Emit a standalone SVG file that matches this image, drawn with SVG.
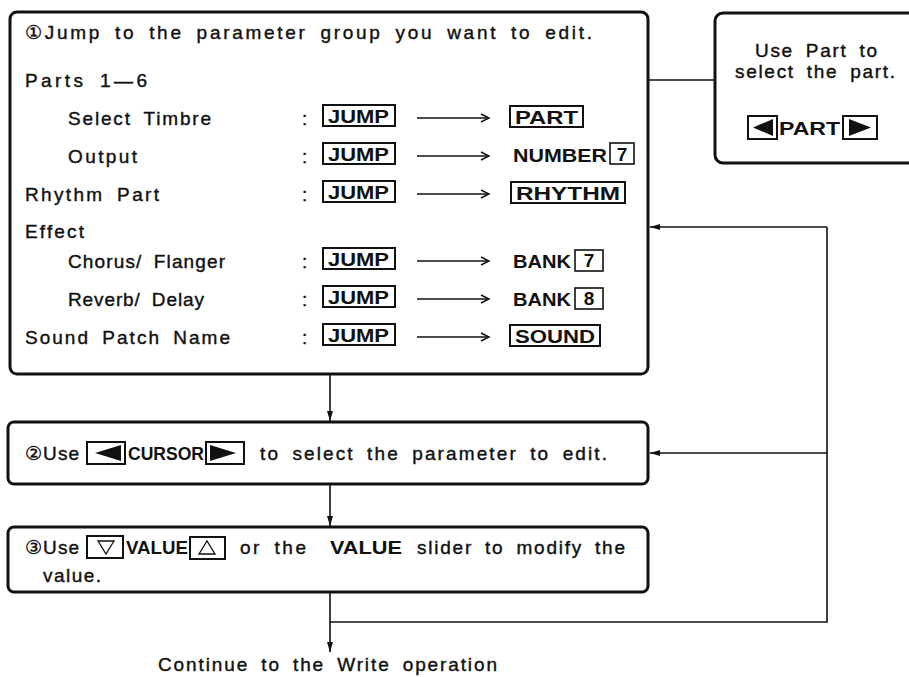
<svg xmlns="http://www.w3.org/2000/svg" width="909" height="677" viewBox="0 0 909 677">
<style>
.t{font-family:"Liberation Sans",Arial,"DejaVu Sans",sans-serif;font-size:19px;word-spacing:5px;fill:#111;stroke:#111;stroke-width:0.4}
.b{font-family:"Liberation Sans",Arial,sans-serif;font-size:19px;font-weight:bold;fill:#111}
.box{fill:#fff;stroke:#111;stroke-width:3}
.key{fill:none;stroke:#111;stroke-width:2}
.nkey{fill:none;stroke:#111;stroke-width:1.6}
.ln{fill:none;stroke:#111;stroke-width:1.6}
.chev{fill:none;stroke:#111;stroke-width:1.4}
.tri{fill:#111}
.otri{fill:none;stroke:#111;stroke-width:1.3}
</style>
<defs>
<marker id="ah" viewBox="0 0 10 6" refX="10" refY="3" markerWidth="10" markerHeight="6" markerUnits="userSpaceOnUse" orient="auto">
<path d="M0,0 L10,3 L0,6 Z" fill="#111"/>
</marker>
</defs>
<rect width="909" height="677" fill="#fff"/>

<g id="connectors">
<line class="ln" x1="715" y1="80" x2="163" y2="80" marker-end="url(#ah)"/>
<line class="ln" x1="330" y1="374" x2="330" y2="421" marker-end="url(#ah)"/>
<line class="ln" x1="330" y1="484" x2="330" y2="526" marker-end="url(#ah)"/>
<line class="ln" x1="330" y1="592" x2="330" y2="652" marker-end="url(#ah)"/>
<polyline class="ln" points="330,622 827,622 827,227"/>
<line class="ln" x1="827" y1="227" x2="650" y2="227" marker-end="url(#ah)"/>
<line class="ln" x1="827" y1="453" x2="650" y2="453" marker-end="url(#ah)"/>
</g>

<g id="node-jump">
<rect class="box" x="10" y="12" width="638" height="362" rx="7"/>
<text class="t" x="25" y="39" textLength="567" lengthAdjust="spacing">①Jump to the parameter group you want to edit.</text>
<text class="t" x="25" y="87" textLength="122" lengthAdjust="spacing">Parts 1—6</text>

<text class="t" x="68" y="125" textLength="143" lengthAdjust="spacing">Select Timbre</text>
<text class="t" x="68" y="163" textLength="69" lengthAdjust="spacing">Output</text>
<text class="t" x="25" y="201" textLength="134" lengthAdjust="spacing">Rhythm Part</text>
<text class="t" x="25" y="238" textLength="59" lengthAdjust="spacing">Effect</text>
<text class="t" x="68" y="268" textLength="157" lengthAdjust="spacing">Chorus/ Flanger</text>
<text class="t" x="68" y="306" textLength="136" lengthAdjust="spacing">Reverb/ Delay</text>
<text class="t" x="25" y="344" textLength="205" lengthAdjust="spacing">Sound Patch Name</text>

<g id="colons">
<text class="t" x="302" y="125">:</text>
<text class="t" x="302" y="163">:</text>
<text class="t" x="302" y="201">:</text>
<text class="t" x="302" y="268">:</text>
<text class="t" x="302" y="306">:</text>
<text class="t" x="302" y="344">:</text>
</g>

<g id="jump-keys">
<rect class="key" x="323" y="105" width="72" height="21"/><text class="b" x="328" y="123" textLength="61" lengthAdjust="spacingAndGlyphs">JUMP</text>
<rect class="key" x="323" y="143" width="72" height="21"/><text class="b" x="328" y="161" textLength="61" lengthAdjust="spacingAndGlyphs">JUMP</text>
<rect class="key" x="323" y="181" width="72" height="21"/><text class="b" x="328" y="199" textLength="61" lengthAdjust="spacingAndGlyphs">JUMP</text>
<rect class="key" x="323" y="248" width="72" height="21"/><text class="b" x="328" y="266" textLength="61" lengthAdjust="spacingAndGlyphs">JUMP</text>
<rect class="key" x="323" y="286" width="72" height="21"/><text class="b" x="328" y="304" textLength="61" lengthAdjust="spacingAndGlyphs">JUMP</text>
<rect class="key" x="323" y="324" width="72" height="21"/><text class="b" x="328" y="342" textLength="61" lengthAdjust="spacingAndGlyphs">JUMP</text>
</g>

<g id="row-arrows">
<line class="ln" x1="417" y1="118" x2="489" y2="118"/><polyline class="chev" points="481,114 489,118 481,122"/>
<line class="ln" x1="417" y1="156" x2="489" y2="156"/><polyline class="chev" points="481,152 489,156 481,160"/>
<line class="ln" x1="417" y1="194" x2="489" y2="194"/><polyline class="chev" points="481,190 489,194 481,198"/>
<line class="ln" x1="417" y1="261" x2="489" y2="261"/><polyline class="chev" points="481,257 489,261 481,265"/>
<line class="ln" x1="417" y1="299" x2="489" y2="299"/><polyline class="chev" points="481,295 489,299 481,303"/>
<line class="ln" x1="417" y1="337" x2="489" y2="337"/><polyline class="chev" points="481,333 489,337 481,341"/>
</g>

<g id="targets">
<rect class="key" x="510" y="106" width="73" height="21"/><text class="b" x="515" y="124" textLength="63" lengthAdjust="spacingAndGlyphs">PART</text>
<text class="b" x="513" y="162" textLength="94" lengthAdjust="spacingAndGlyphs">NUMBER</text>
<rect class="nkey" x="610" y="143" width="24" height="21"/><text class="b" x="622" y="161" text-anchor="middle">7</text>
<rect class="key" x="511" y="182" width="114" height="21"/><text class="b" x="516" y="200" textLength="104" lengthAdjust="spacingAndGlyphs">RHYTHM</text>
<text class="b" x="513" y="268" textLength="58" lengthAdjust="spacingAndGlyphs">BANK</text>
<rect class="nkey" x="575" y="250" width="28" height="21"/><text class="b" x="589" y="267" text-anchor="middle">7</text>
<text class="b" x="513" y="306" textLength="58" lengthAdjust="spacingAndGlyphs">BANK</text>
<rect class="nkey" x="575" y="288" width="28" height="21"/><text class="b" x="589" y="305" text-anchor="middle">8</text>
<rect class="key" x="510" y="325" width="90" height="21"/><text class="b" x="515" y="343" textLength="80" lengthAdjust="spacingAndGlyphs">SOUND</text>
</g>
</g>

<g id="node-part">
<rect class="box" x="715" y="13" width="220" height="150" rx="8"/>
<text class="t" x="755" y="57" textLength="122" lengthAdjust="spacing">Use Part to</text>
<text class="t" x="735" y="78" textLength="160" lengthAdjust="spacing">select the part.</text>
<rect class="key" x="748" y="116" width="29" height="23"/>
<polygon class="tri" points="753,127.5 773,119 773,136"/>
<text class="b" x="779" y="135" textLength="61" lengthAdjust="spacingAndGlyphs">PART</text>
<rect class="key" x="843" y="116" width="34" height="23"/>
<polygon class="tri" points="849,119 871,127.5 849,136"/>
</g>

<g id="node-cursor">
<rect class="box" x="8" y="422" width="640" height="62" rx="6"/>
<text class="t" x="25" y="460" textLength="54" lengthAdjust="spacing">②Use</text>
<rect class="key" x="87" y="442" width="38" height="22"/>
<polygon class="tri" points="95,453 121,445 121,461"/>
<text class="b" x="128" y="460" textLength="76" lengthAdjust="spacingAndGlyphs">CURSOR</text>
<rect class="key" x="206" y="442" width="38" height="22"/>
<polygon class="tri" points="210,445 236,453 210,461"/>
<text class="t" x="260" y="460" textLength="347" lengthAdjust="spacing">to select the parameter to edit.</text>
</g>

<g id="node-value">
<rect class="box" x="8" y="527" width="640" height="65" rx="6"/>
<text class="t" x="25" y="554" textLength="54" lengthAdjust="spacing">③Use</text>
<rect class="key" x="87" y="536" width="36" height="22"/>
<polygon class="otri" points="98,541 114,541 106,554"/>
<text class="b" x="126" y="554" textLength="62" lengthAdjust="spacingAndGlyphs">VALUE</text>
<rect class="key" x="190" y="537" width="35" height="22"/>
<polygon class="otri" points="199,554 215,554 207,541"/>
<text class="t" x="240" y="554" textLength="66" lengthAdjust="spacing">or the</text>
<text class="b" x="330" y="554" textLength="72" lengthAdjust="spacingAndGlyphs">VALUE</text>
<text class="t" x="417" y="554" textLength="208" lengthAdjust="spacing">slider to modify the</text>
<text class="t" x="43" y="582" textLength="58" lengthAdjust="spacing">value.</text>
</g>

<g id="node-continue">
<text class="t" x="158" y="671" textLength="339" lengthAdjust="spacing">Continue to the Write operation</text>
</g>
</svg>
